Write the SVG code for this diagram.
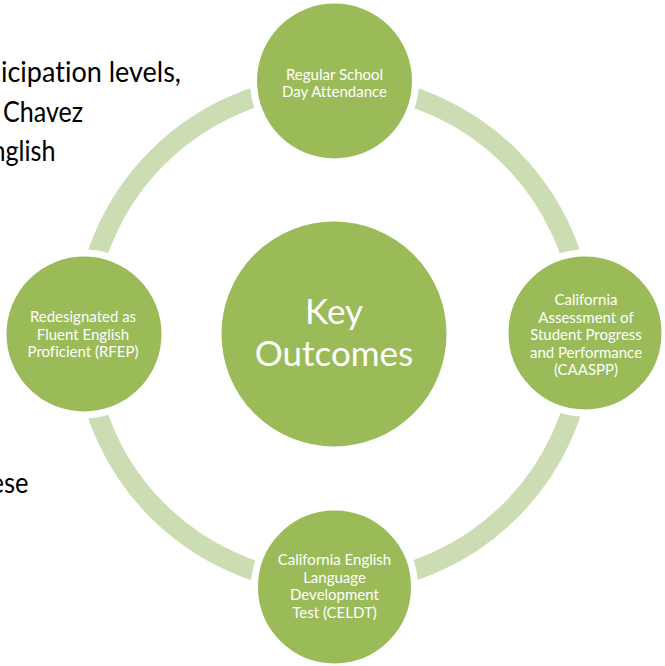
<svg xmlns="http://www.w3.org/2000/svg" width="665" height="666" viewBox="0 0 665 666">
  <style>
    text { font-variant-ligatures: none; }
    .bg { font-family: Lato, "Liberation Sans", sans-serif; font-size: 28px; fill: #000000; }
    .node { fill: #9BBB59; stroke: #FFFFFF; stroke-width: 7; }
    .arc { fill: none; stroke: #CCDDB3; stroke-width: 20; }
    .lbl { font-family: Lato, "Liberation Sans", sans-serif; font-size: 15px; fill: #FFFFFF; text-anchor: middle; }
    .big { font-family: Lato, "Liberation Sans", sans-serif; font-size: 35px; fill: #FFFFFF; text-anchor: middle; }
  </style>
  <rect width="665" height="666" fill="#FFFFFF"/>
  <g id="background-text">
    <text class="bg" x="1" y="82" textLength="180" lengthAdjust="spacingAndGlyphs">icipation levels,</text>
    <text class="bg" x="3" y="122" textLength="80" lengthAdjust="spacingAndGlyphs">Chavez</text>
    <text class="bg" x="55.5" y="161" text-anchor="end" textLength="64" lengthAdjust="spacingAndGlyphs">nglish</text>
    <text class="bg" x="28.5" y="493" text-anchor="end" textLength="38" lengthAdjust="spacingAndGlyphs">ese</text>
  </g>
  <g id="connectors">
    <path class="arc" d="M355.8,85 A251,251 0 0 1 583,312.2"/>
    <path class="arc" d="M583,355.8 A251,251 0 0 1 355.8,583"/>
    <path class="arc" d="M312.2,583 A251,251 0 0 1 85,355.8"/>
    <path class="arc" d="M85,312.2 A251,251 0 0 1 312.2,85"/>
  </g>
  <g id="center">
    <circle class="node" cx="334" cy="334" r="116"/>
    <text class="big" x="334" y="324">Key</text>
    <text class="big" x="334" y="366">Outcomes</text>
  </g>
  <g id="node-attendance">
    <circle class="node" cx="334.5" cy="81" r="81"/>
    <text class="lbl" x="334.5" y="80">Regular School</text>
    <text class="lbl" x="334.5" y="97">Day Attendance</text>
  </g>
  <g id="node-caaspp">
    <circle class="node" cx="585" cy="333" r="80"/>
    <text class="lbl" x="586" y="305">California</text>
    <text class="lbl" x="586" y="322.5">Assessment of</text>
    <text class="lbl" x="586" y="340">Student Progress</text>
    <text class="lbl" x="586" y="357.5">and Performance</text>
    <text class="lbl" x="586" y="375">(CAASPP)</text>
  </g>
  <g id="node-celdt">
    <circle class="node" cx="334.5" cy="587" r="80"/>
    <text class="lbl" x="334.5" y="565">California English</text>
    <text class="lbl" x="334.5" y="582.5">Language</text>
    <text class="lbl" x="334.5" y="600">Development</text>
    <text class="lbl" x="334.5" y="617.5">Test (CELDT)</text>
  </g>
  <g id="node-rfep">
    <circle class="node" cx="84" cy="334" r="81"/>
    <text class="lbl" x="83" y="322">Redesignated as</text>
    <text class="lbl" x="83" y="339.5">Fluent English</text>
    <text class="lbl" x="83" y="357">Proficient (RFEP)</text>
  </g>
</svg>
